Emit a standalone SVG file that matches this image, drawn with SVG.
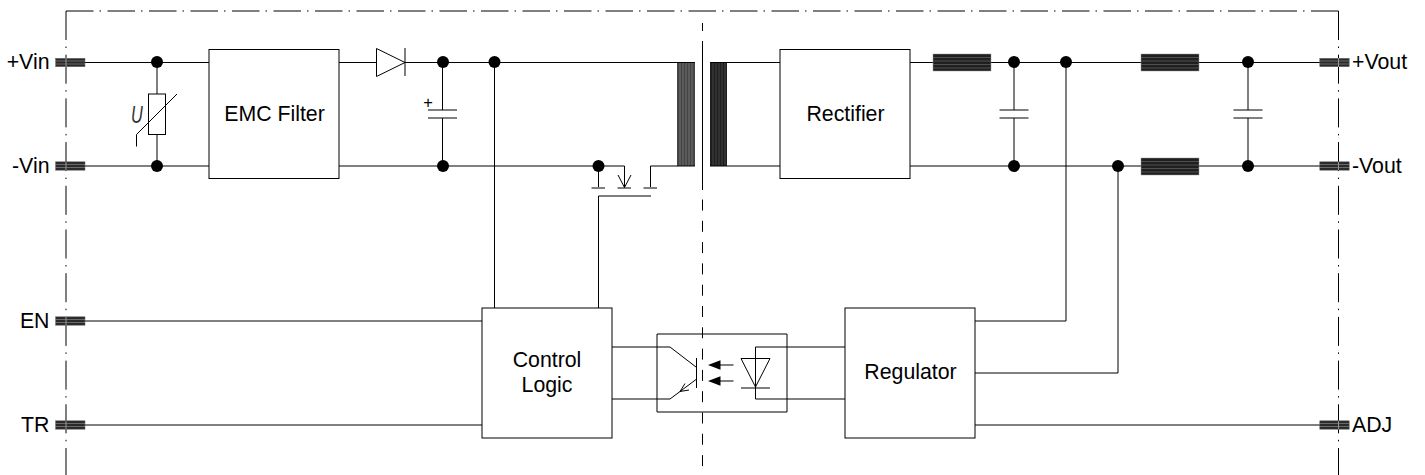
<svg xmlns="http://www.w3.org/2000/svg" width="1425" height="475" viewBox="0 0 1425 475">
<style>
text{font-family:"Liberation Sans",Arial,sans-serif;font-size:21.300px;fill:#000}
.m{text-anchor:middle}
.e{text-anchor:end}
.w{fill:none;stroke:#000;stroke-width:1}
.b{fill:#fff;stroke:#000;stroke-width:1}
.v{fill:none;stroke:#000;stroke-dasharray:29 6.5 1.500 6.700}
.h{fill:none;stroke:#000;stroke-dasharray:27.500 6 1.500 6.500}
.t{fill:#2a2a2a;stroke:#666;stroke-width:.5}
.s{stroke:#aaa;stroke-width:.5}
.x{stroke:#999;stroke-width:1}
.k{fill:#000;stroke:none}
</style>
<defs>
<g id="term"><rect class="t" x="-14.700" y="-4.200" width="29.400" height="8.400"/><path class="s" d="M-14.700-1.500H14.700M-14.700 1.500H14.700"/></g>
<g id="coilh"><rect x="0" y="0" width="58" height="17" fill="#1f1f1f" stroke="#999" stroke-width=".5"/><path d="M0 3.500H58M0 7H58M0 10.500H58M0 14H58" stroke="#666" stroke-width=".7"/></g>
<circle id="dot" r="6" fill="#000"/>
</defs>
<g id="boundary">
<path class="v" d="M66 11V475"/>
<path class="h" d="M66 11H1338.500"/>
<path class="v" d="M1338.500 11V475"/>
<path class="w" d="M702.500 23V31M702.500 41V190"/>
<path class="w" style="stroke-dasharray:11 10.300" d="M702.500 199.500V475"/>
</g>
<g id="connectors" class="w">
<path d="M85 62.500H209M339 62.500H376.500M405 62.500H677M727 62.500H780M910 62.500H933M991 62.500H1141M1199 62.500H1320"/>
<path d="M85 166H209M339 166H624.500V187M650.500 187V166H677M727 166H780M910 166H1141M1199 166H1320"/>
<path d="M157 62V94M157 134V166M442.500 62V110M442.500 118V166M1014 62V110M1014 118V166M1248 62V110M1248 118V166"/>
<path d="M494.500 62V308M598.500 308V196H651M598.500 166V187"/>
<path d="M85 321H482M85 425H482"/>
<path d="M612 347H670L696 367M612 399H670L696 379.500"/>
<path d="M755.500 347H845M755.500 347V399H845"/>
<path d="M975 321H1066V62M975 373H1118V166M975 425H1320"/>
</g>
<g id="pin-vin-plus"><text class="e" x="49.500" y="69">+Vin</text><use href="#term" x="70.300" y="62.500"/><path class="x" d="M66 58V67"/></g>
<g id="pin-vin-minus"><text class="e" x="49.500" y="173">-Vin</text><use href="#term" x="70.300" y="166"/><path class="x" d="M66 162V170"/></g>
<g id="pin-en"><text class="e" x="49.500" y="327.500">EN</text><use href="#term" x="70.300" y="321"/><path class="x" d="M66 317V325"/></g>
<g id="pin-tr"><text class="e" x="49.500" y="431.500">TR</text><use href="#term" x="70.300" y="425"/><path class="x" d="M66 421V429"/></g>
<g id="pin-vout-plus"><use href="#term" x="1334.500" y="62.500"/><path class="x" d="M1338.500 58V67"/><text x="1352" y="69">+Vout</text></g>
<g id="pin-vout-minus"><use href="#term" x="1334.500" y="166"/><path class="x" d="M1338.500 162V170"/><text x="1352" y="173">-Vout</text></g>
<g id="pin-adj"><use href="#term" x="1334.500" y="425"/><path class="x" d="M1338.500 421V429"/><text x="1352" y="431.500">ADJ</text></g>
<g id="varistor">
<rect class="b" x="148.500" y="94" width="17" height="40.500"/>
<path class="w" d="M177 94L136.500 134.500V146.500"/>
<text transform="translate(131 122.500) scale(.68 1)" style="font-style:italic;font-size:24px;fill:#333">U</text>
</g>
<g id="emc-filter"><rect class="b" x="209" y="49.500" width="130" height="129"/><text class="m" x="274.500" y="121">EMC Filter</text></g>
<g id="diode"><path class="w" d="M376.500 48.500L405 62.500L376.500 76.500Z"/><path class="w" d="M405 48V76"/></g>
<g id="input-cap"><path class="w" d="M428 110H457M428 118H457"/><text class="m" x="428" y="107.500" style="font-size:16.500px">+</text></g>
<g id="mosfet">
<path class="w" d="M591.500 188H605M617.500 188H631M643.500 188H657"/>
<path class="w" d="M618 175L624.500 187.500L631 175"/>
</g>
<g id="transformer">
<rect x="677" y="62" width="18" height="104" fill="#444"/>
<path d="M680 62V166M683 62V166M686 62V166M689 62V166M692 62V166" stroke="#888" stroke-width=".7"/>
<rect x="710" y="62" width="17" height="104" fill="#1f1f1f"/>
<path d="M713 62V166M716 62V166M719 62V166M722 62V166M725 62V166" stroke="#555" stroke-width=".7"/>
<path class="w" d="M677 62.500H695M710 62.500H727M677 166H695M710 166H727"/>
</g>
<g id="rectifier"><rect class="b" x="780" y="49.500" width="130" height="129"/><text class="m" x="845.500" y="121">Rectifier</text></g>
<g id="inductor-1"><use href="#coilh" x="933" y="54"/></g>
<g id="inductor-2"><use href="#coilh" x="1141" y="54"/></g>
<g id="inductor-3"><use href="#coilh" x="1141" y="158"/></g>
<g id="output-cap-1"><path class="w" d="M999.500 110H1028.500M999.500 118H1028.500"/></g>
<g id="output-cap-2"><path class="w" d="M1233.500 110H1262.500M1233.500 118H1262.500"/></g>
<g id="control-logic"><rect class="b" x="482" y="308" width="130" height="130"/><text class="m" x="547" y="367">Control</text><text class="m" x="547" y="392">Logic</text></g>
<g id="regulator"><rect class="b" x="845" y="308" width="130" height="130"/><text class="m" x="910.500" y="379">Regulator</text></g>
<g id="optocoupler">
<path class="w" d="M657 334H787V412H657Z"/>
<path class="w" d="M696.500 358V388M685 383.500L680 391.500L689 390"/>
<path class="k" d="M708 365L720.500 360.300V369.700Z M708 381L720.500 376.300V385.700Z"/>
<path class="w" d="M720 365H733.500M720 381H733.500"/>
<path class="w" d="M741 358.500H770L755.500 387Z"/>
<path class="w" d="M741 388H770"/>
</g>
<g id="junctions">
<use href="#dot" x="157" y="62"/><use href="#dot" x="157" y="166"/>
<use href="#dot" x="443" y="62"/><use href="#dot" x="443" y="166"/>
<use href="#dot" x="494.500" y="62"/><use href="#dot" x="598.500" y="166"/>
<use href="#dot" x="1014" y="62"/><use href="#dot" x="1014" y="166"/>
<use href="#dot" x="1066" y="62"/><use href="#dot" x="1118" y="166"/>
<use href="#dot" x="1248" y="62"/><use href="#dot" x="1248" y="166"/>
</g>
</svg>
